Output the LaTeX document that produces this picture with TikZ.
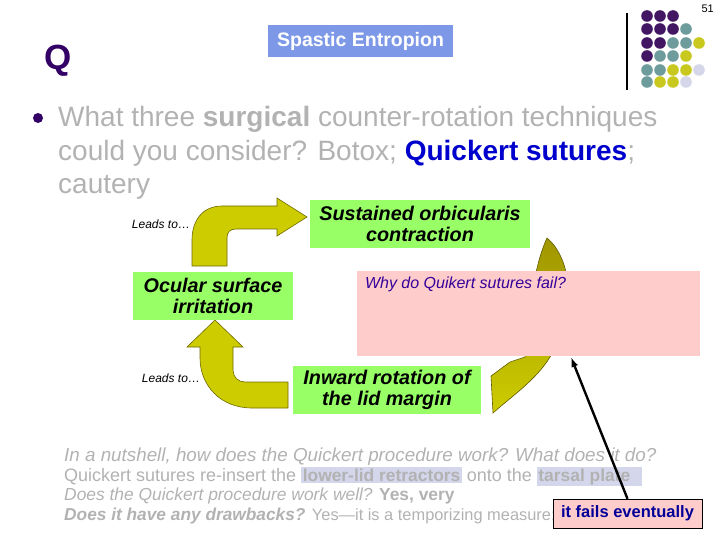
\documentclass[tikz,border=0pt]{standalone}
\usepackage{fontspec}
\setmainfont{Liberation Sans}
\usepackage{tikz}
\usetikzlibrary{arrows.meta,calc}
\definecolor{stagegreen}{RGB}{153,255,102}
\definecolor{whypink}{RGB}{255,204,204}
\definecolor{titleblue}{RGB}{125,152,230}
\definecolor{qpurple}{RGB}{51,0,102}
\definecolor{dotpurple}{RGB}{66,22,98}
\definecolor{dotteal}{RGB}{110,156,156}
\definecolor{dotyellow}{RGB}{200,200,30}
\definecolor{dotlav}{RGB}{214,214,234}
\definecolor{arrowyellow}{RGB}{204,204,0}
\definecolor{arrowolive}{RGB}{160,150,0}
\definecolor{whyblue}{RGB}{51,0,153}
\definecolor{failblue}{RGB}{0,0,153}
\definecolor{softgray}{RGB}{178,178,178}
\definecolor{hilitelav}{RGB}{212,214,236}
\definecolor{qblue}{RGB}{0,0,204}
\newcommand{\hilite}[1]{{\setlength{\fboxsep}{1.5pt}\colorbox{hilitelav}{\textbf{#1}}}}
\newcommand{\fsz}[1]{\fontsize{#1}{20}\selectfont}
\tikzstyle{titlebox} = [rectangle, fill=titleblue, text=white, font=\bfseries\fontsize{19.5}{22}\selectfont, minimum width=185, minimum height=32, inner sep=0pt]
\tikzstyle{stage} = [rectangle, fill=stagegreen, align=center, font=\bfseries\itshape\fontsize{19.8}{21}\selectfont, minimum height=48, inner sep=0pt]
\tikzstyle{leads} = [font=\itshape\fontsize{12}{14}\selectfont, inner sep=0pt]
\tikzstyle{qline} = [anchor=base west, text=softgray, font=\fontsize{28}{32}\selectfont, inner sep=0pt]
\tikzstyle{nline} = [anchor=base west, text=softgray, font=\fontsize{18}{20}\selectfont, inner sep=0pt]
\tikzstyle{bigarrow} = [fill=arrowyellow, draw=arrowolive!70!black, line width=0.6pt]
\tikzstyle{failbox} = [rectangle, draw, fill=whypink, text=failblue, font=\bfseries\fontsize{16.5}{18}\selectfont, minimum width=149, minimum height=29, inner sep=0pt]
\tikzstyle{pointer} = [line width=2.4pt, -{Latex[length=10pt,width=7pt]}]

\begin{document}
\begin{tikzpicture}[x=1pt,y=-1pt]
    \useasboundingbox (0,0) rectangle (720,540);
    % slide furniture
    \node (pagenum) [anchor=east, font=\fontsize{11}{12}\selectfont, inner sep=0pt] at (714,9) {51};
    \draw [line width=1.2pt] (627,13) -- (627,90);
    \foreach \x/\y/\c in {647/16/dotpurple, 660/16/dotpurple, 673/16/dotpurple,
        647/29/dotpurple, 660/29/dotpurple, 673/29/dotpurple, 686/29/dotteal,
        647/43/dotpurple, 660/43/dotpurple, 673/43/dotteal, 686/43/dotteal, 699/43/dotyellow,
        647/56/dotpurple, 660/56/dotteal, 673/56/dotteal, 686/56/dotyellow,
        647/70/dotteal, 660/70/dotteal, 673/70/dotyellow, 686/70/dotyellow, 699/70/dotlav,
        647/82/dotteal, 660/82/dotyellow, 673/82/dotyellow, 686/82/dotlav}
        \fill [\c] (\x,\y) circle (5.8);
    \node (qmark) [anchor=base, text=qpurple, font=\bfseries\fontsize{35}{38}\selectfont, inner sep=0pt] at (58,70) {Q};
    \node (title) [titlebox] at (360.5,41) {Spastic Entropion};
    % question
    \fill [qpurple] (38,118) circle (5);
    \node (q1) [qline] at (58,127) {What three \textbf{surgical} counter-rotation techniques};
    \node (q2) [qline] at (58,161) {could you consider? Botox; \textcolor{qblue}{\textbf{Quickert sutures}};};
    \node (q3) [qline] at (58,194) {cautery};
    % cycle
    \draw [bigarrow] (192,266) -- (192,240) .. controls (192,220) and (203,206) .. (222,206)
        -- (277,206) -- (277,198) -- (307,217) -- (277,236) -- (277,229) -- (236,229)
        .. controls (230,229) and (227,232) .. (227,238) -- (227,266) -- cycle;
    \draw [bigarrow] (215,320) -- (243,347) -- (233,347) -- (233,370)
        .. controls (233,377) and (238,382) .. (245,382) -- (288,382) -- (288,408) -- (252,408)
        .. controls (220,408) and (200,385) .. (200,358) -- (200,347) -- (187,347) -- cycle;
    \draw [draw=arrowolive!60!black, line width=0.6pt, top color=arrowolive, bottom color=arrowyellow]
        (547,238) .. controls (568,255) and (581,305) .. (550,357)
        .. controls (536,380) and (512,396) .. (493,413) -- (491,376) -- (510,362) -- (525,357)
        .. controls (529,315) and (533,268) .. cycle;
    \node (sustained) [stage, minimum width=220] at (420,224) {Sustained orbicularis\\contraction};
    \node (ocular) [stage, minimum width=160] at (213,296) {Ocular surface\\irritation};
    \node (inward) [stage, minimum width=188] at (387,390) {Inward rotation of\\the lid margin};
    \node (lead1) [leads] at (161,224) {Leads to…};
    \node (lead2) [leads] at (171,378) {Leads to…};
    \node (why) [rectangle, fill=whypink, minimum width=343, minimum height=85, inner sep=0pt] at (528.5,313.5) {};
    \node (whytext) [anchor=north west, text=whyblue, font=\itshape\fontsize{16}{18}\selectfont, inner sep=0pt] at ($(why.north west)+(8,6)$) {Why do Quikert sutures fail?};
    % notes
    \node (n1) [nline] at (64,461) {\fsz{18.8}\itshape In a nutshell, how does the Quickert procedure work? What does it do?};
    \node (n2) [nline] at (64,481) {Quickert sutures re-insert the \hilite{\fsz{17.4}lower-lid retractors} onto the \hilite{\fsz{17.4}tarsal plate\ \ }};
    \node (n3) [nline] at (64,500) {\fsz{17.4}\itshape Does the Quickert procedure work well? \upshape\bfseries Yes, very};
    \node (n4) [nline] at (64,520) {\fsz{17.3}\bfseries\itshape Does it have any drawbacks? \fsz{16.4}\mdseries\upshape Yes—it is a temporizing measure;};
    \node (fails) [failbox] at (627.5,513.5) {it fails eventually};
    \coordinate (failtip) at (571,357);
    \draw [pointer] (fails.north) -- (failtip);
\end{tikzpicture}
\end{document}
